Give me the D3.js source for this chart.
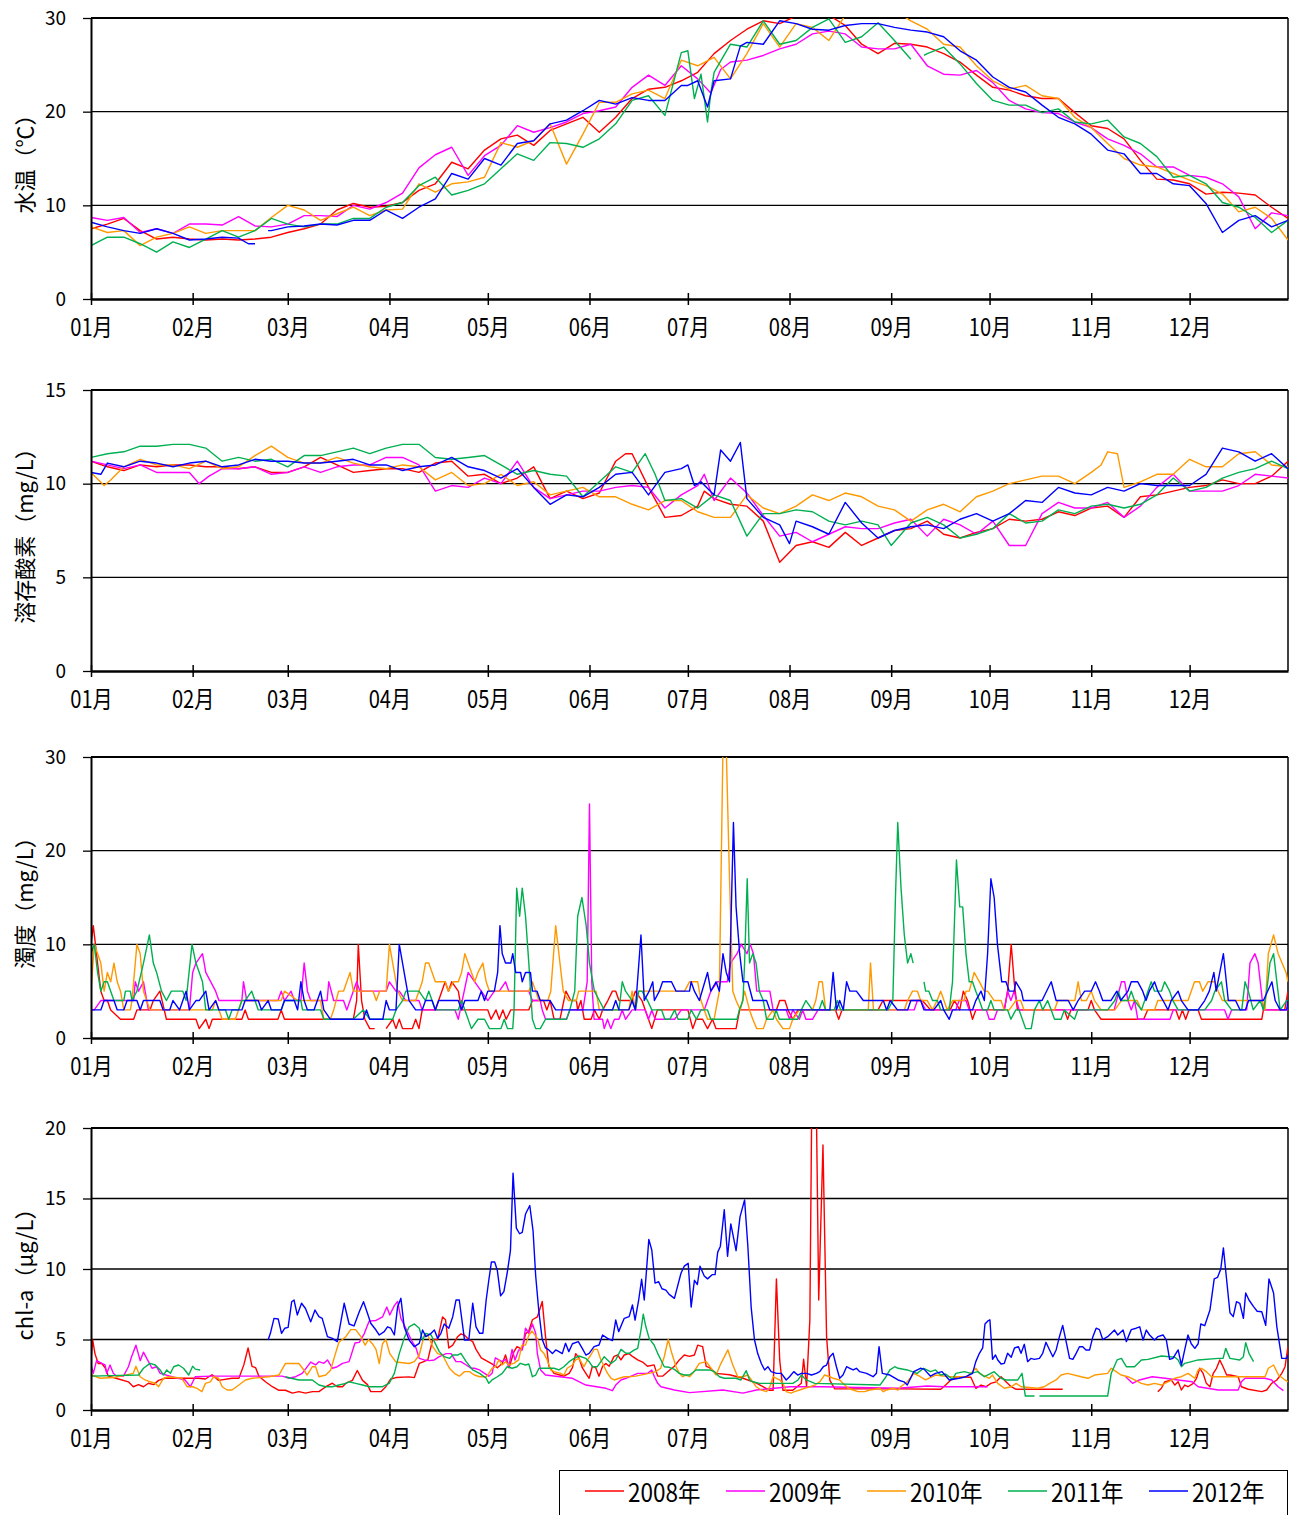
<!DOCTYPE html>
<html>
<head>
<meta charset="utf-8">
<script src="https://cdn.jsdelivr.net/npm/d3@7"></script>
<style>
  body { margin: 0; background: #fff; }
  svg { display: block; font-family: "Noto Sans CJK JP", "Noto Sans", sans-serif; }
</style>
</head>
<body>
<svg id="chart" width="1291" height="1515"></svg>
<script>
// daily water quality, 2008-2012 as [dayOfYear, value]

const years = ['2008年', '2009年', '2010年', '2011年', '2012年'];
const colors = ['#ff0000', '#ff00ff', '#ff9900', '#00b050', '#0000ff'];
const monthStarts = [0, 31, 60, 91, 121, 152, 182, 213, 244, 274, 305, 335];
const monthLabels = ['01月', '02月', '03月', '04月', '05月', '06月', '07月', '08月', '09月', '10月', '11月', '12月'];

// 水温
const temp2008 = [[0,7.5],[5,8.0],[10,8.6],[15,7.3],[20,6.4],[25,6.6],[30,6.4],[35,6.3],[40,6.4],[45,6.3],[50,6.4],[55,6.6],[60,7.1],[65,7.5],[70,8.0],[75,9.5],[80,10.2],[85,9.8],[90,9.9],[95,10.3],[100,11.6],[105,12.3],[110,14.6],[115,13.9],[120,15.9],[125,17.1],[130,17.5],[135,16.4],[140,18.0],[145,18.7],[150,19.4],[155,17.8],[160,19.4],[165,21.4],[170,22.4],[175,22.6],[180,23.3],[185,24.2],[190,26.2],[195,27.6],[200,28.8],[205,29.7],[210,29.4],[215,30.2],[220,30.5],[225,30.3],[230,29.2],[235,27.2],[240,26.2],[245,27.3],[250,27.2],[255,26.9],[260,26.2],[265,25.3],[270,23.9],[275,22.6],[280,22.3],[285,21.7],[290,21.4],[295,21.4],[300,19.9],[305,18.5],[310,18.2],[315,17.1],[320,14.8],[325,12.8],[330,12.7],[335,12.3],[340,11.2],[345,11.4],[350,11.3],[355,11.1],[360,9.8],[365,8.6]];
const temp2009 = [[0,8.7],[5,8.4],[10,8.7],[15,7.1],[20,7.5],[25,7.0],[30,8.0],[35,8.0],[40,7.9],[45,8.8],[50,7.8],[55,7.7],[60,8.0],[65,8.9],[70,8.9],[75,8.8],[80,10.0],[85,9.6],[90,10.3],[95,11.3],[100,14.0],[105,15.4],[110,16.2],[115,13.2],[120,15.3],[125,16.4],[130,18.5],[135,17.8],[140,18.3],[145,18.9],[150,19.8],[155,20.1],[160,20.5],[165,22.6],[170,23.9],[175,22.8],[180,24.9],[185,23.5],[189,22.0],[192,24.5],[195,25.3],[200,25.5],[205,26.0],[210,26.7],[215,27.2],[220,28.3],[225,28.6],[230,28.3],[235,26.9],[240,26.7],[245,26.7],[250,27.2],[255,24.9],[260,24.0],[265,23.9],[270,24.4],[275,23.1],[280,21.2],[285,20.3],[290,19.9],[295,19.8],[300,18.9],[305,18.3],[310,17.1],[315,16.4],[320,15.5],[325,14.1],[330,14.1],[335,13.2],[340,13.0],[345,12.3],[350,10.9],[355,7.5],[360,9.2],[365,8.9]];
const temp2010 = [[0,7.7],[5,7.1],[10,7.3],[15,5.7],[20,6.6],[25,7.0],[30,7.7],[35,7.0],[40,7.3],[45,7.3],[50,7.3],[55,8.7],[60,10.0],[65,9.5],[70,8.4],[75,9.1],[80,9.8],[85,8.9],[90,9.5],[95,9.6],[100,12.3],[105,11.4],[110,12.3],[115,12.5],[120,13.0],[125,16.7],[130,16.2],[135,16.9],[140,18.7],[145,14.4],[150,17.6],[155,21.0],[160,21.0],[165,21.9],[170,22.3],[175,21.4],[180,25.5],[185,24.9],[190,25.8],[195,23.5],[200,26.2],[205,29.4],[210,26.9],[215,29.4],[220,29.0],[225,27.6],[230,30.3],[235,30.8],[240,31.0],[245,30.8],[250,29.7],[255,28.8],[260,27.2],[265,26.9],[270,24.9],[275,23.3],[280,22.4],[285,22.8],[290,21.7],[295,21.4],[300,19.4],[305,18.3],[310,16.6],[315,15.0],[320,14.3],[325,14.1],[330,13.4],[335,12.7],[340,12.1],[345,11.2],[350,9.3],[355,9.8],[360,8.6],[365,6.3]];
const temp2011 = [[0,5.7],[5,6.6],[10,6.6],[15,5.9],[20,5.0],[25,6.1],[30,5.5],[35,6.4],[40,7.3],[45,6.6],[50,7.3],[55,8.6],[60,8.0],[65,7.7],[70,8.0],[75,8.0],[80,8.6],[85,8.6],[90,9.8],[95,10.3],[100,12.1],[105,13.0],[110,11.1],[115,11.6],[120,12.3],[125,13.9],[130,15.5],[135,14.8],[140,16.7],[145,16.6],[150,16.2],[155,17.1],[160,18.7],[165,21.2],[170,21.7],[175,19.6],[180,26.3],[182,26.5],[184,21.4],[186,24.0],[188,18.9],[189,22.0],[190,24.2],[195,27.2],[200,26.9],[205,29.7],[210,27.2],[215,27.6],[220,29.0],[225,29.9],[230,27.4],[235,28.0],[240,29.5],[245,27.6],[250,25.6],[251,null],[254,26.0],[255,26.2],[260,26.9],[265,25.1],[270,23.0],[275,21.2],[280,20.7],[285,20.7],[290,19.9],[295,20.3],[300,18.9],[305,18.7],[310,19.1],[315,17.3],[320,16.6],[325,15.2],[330,13.0],[335,13.2],[340,12.3],[345,10.3],[350,9.8],[355,8.7],[360,7.1],[365,8.4]];
const temp2012 = [[0,8.2],[5,7.7],[10,7.3],[15,7.0],[20,7.5],[25,7.0],[30,6.3],[35,6.4],[40,6.6],[45,6.5],[48,5.9],[50,5.9],[51,null],[54,7.3],[55,7.3],[60,7.7],[65,7.8],[70,8.0],[75,7.9],[80,8.4],[85,8.4],[90,9.5],[95,8.6],[100,9.8],[105,10.7],[110,13.4],[115,12.8],[120,15.0],[125,14.3],[130,16.6],[135,16.9],[140,18.7],[145,19.1],[150,20.1],[155,21.2],[160,20.8],[165,21.5],[170,21.2],[175,21.2],[180,22.8],[182,22.8],[185,23.3],[188,20.5],[190,23.3],[195,23.5],[198,27.0],[200,27.4],[205,27.2],[210,29.7],[215,29.4],[220,28.8],[225,28.7],[230,29.2],[235,29.4],[240,29.4],[245,29.0],[250,28.7],[255,28.5],[260,28.0],[265,26.5],[270,25.5],[275,23.7],[280,22.6],[285,22.1],[290,20.7],[295,19.4],[300,18.7],[305,17.6],[310,15.9],[315,15.5],[320,13.4],[325,13.4],[330,12.3],[335,12.1],[340,10.2],[345,7.1],[350,8.4],[355,8.9],[360,7.7],[365,8.4]];

// 溶存酸素
const do2008 = [[0,11.2],[5,10.9],[10,10.7],[15,11.0],[20,10.9],[25,11.0],[30,11.0],[35,10.9],[40,10.9],[45,10.8],[50,10.9],[55,10.6],[60,10.6],[65,10.9],[70,11.4],[75,11.0],[80,10.6],[85,10.7],[90,10.8],[95,10.8],[100,10.6],[105,11.1],[110,11.2],[115,10.4],[120,10.5],[125,10.0],[130,10.3],[135,10.9],[140,9.2],[145,9.6],[150,9.2],[155,9.5],[160,11.2],[163,11.6],[165,11.6],[170,9.8],[175,8.2],[180,8.3],[185,8.8],[187,9.6],[190,9.2],[195,8.9],[200,8.8],[205,8.0],[210,5.8],[215,6.7],[220,6.9],[225,6.6],[230,7.4],[235,6.7],[240,7.1],[245,7.5],[250,7.6],[255,8.0],[260,7.3],[265,7.1],[270,7.4],[275,7.6],[280,8.1],[285,8.0],[290,8.1],[295,8.5],[300,8.3],[305,8.7],[310,8.8],[315,8.2],[320,9.3],[325,9.4],[330,9.6],[335,9.8],[340,9.9],[345,10.2],[350,10.0],[355,10.0],[360,10.4],[365,11.2]];
const do2009 = [[0,11.2],[5,11.0],[10,10.8],[15,11.0],[20,10.6],[25,10.6],[30,10.6],[33,10.0],[36,10.4],[40,10.8],[45,10.8],[50,10.9],[55,10.5],[60,10.6],[65,10.9],[70,10.6],[75,10.9],[80,11.0],[85,11.0],[90,11.4],[95,11.4],[100,11.0],[105,9.6],[110,9.9],[115,9.8],[120,10.3],[125,10.0],[130,11.2],[135,9.8],[140,9.2],[145,9.4],[150,9.6],[155,9.6],[160,9.8],[165,9.9],[170,9.8],[175,8.7],[180,9.4],[185,9.9],[187,10.5],[190,9.1],[195,10.3],[200,9.5],[205,8.3],[210,7.2],[215,7.4],[220,6.9],[225,7.3],[230,7.7],[235,7.6],[240,7.6],[245,7.9],[250,8.1],[255,7.2],[260,8.1],[265,7.8],[270,7.3],[275,8.0],[280,6.7],[285,6.7],[290,8.4],[295,9.0],[300,8.7],[305,8.7],[310,9.0],[315,8.2],[320,8.8],[325,9.8],[330,10.5],[335,9.6],[340,9.6],[345,9.6],[350,9.9],[355,10.5],[360,10.4],[365,10.3]];
const do2010 = [[0,10.6],[4,9.9],[6,10.2],[10,10.9],[15,11.3],[20,11.0],[25,11.0],[30,10.8],[35,11.2],[40,10.8],[45,10.9],[50,11.5],[55,12.0],[60,11.4],[65,11.1],[70,11.1],[75,11.4],[80,11.1],[85,10.9],[90,10.8],[95,11.0],[100,10.9],[105,10.2],[110,10.6],[115,9.9],[120,10.0],[125,10.5],[130,9.9],[135,10.1],[140,9.4],[145,9.6],[150,9.8],[155,9.3],[160,9.3],[165,8.9],[170,8.6],[175,9.1],[180,9.1],[185,8.5],[190,8.2],[195,8.2],[200,9.4],[205,8.7],[210,8.4],[215,8.8],[220,9.4],[225,9.1],[230,9.5],[235,9.3],[240,8.8],[245,8.6],[250,8.0],[255,8.6],[260,8.9],[265,8.5],[270,9.3],[275,9.6],[280,10.0],[285,10.2],[290,10.4],[295,10.4],[300,10.0],[305,10.6],[308,11.0],[310,11.7],[313,11.6],[315,9.8],[320,10.1],[325,10.5],[330,10.5],[335,11.3],[340,10.9],[345,10.9],[350,11.6],[355,11.7],[360,11.0],[365,10.9]];
const do2011 = [[0,11.4],[5,11.6],[10,11.7],[15,12.0],[20,12.0],[25,12.1],[30,12.1],[35,11.9],[40,11.2],[45,11.4],[50,11.2],[55,11.3],[60,10.9],[65,11.5],[70,11.5],[75,11.7],[80,11.9],[85,11.6],[90,11.9],[95,12.1],[100,12.1],[105,11.4],[110,11.3],[115,11.4],[120,11.5],[125,11.0],[130,10.5],[135,10.7],[140,10.5],[145,10.4],[150,9.3],[155,10.1],[160,10.9],[165,10.6],[169,11.6],[172,10.5],[175,9.1],[180,9.2],[185,8.7],[190,9.4],[195,9.1],[200,7.2],[205,8.4],[210,8.4],[215,8.6],[220,8.5],[225,8.0],[230,7.8],[235,8.0],[240,7.8],[244,6.7],[250,7.9],[255,8.2],[260,7.8],[265,7.1],[270,7.3],[275,7.6],[280,8.4],[285,7.9],[290,8.0],[295,8.6],[300,8.4],[305,8.8],[310,8.9],[315,8.7],[320,8.9],[325,9.4],[330,10.3],[335,9.6],[340,9.8],[345,10.3],[350,10.6],[355,10.8],[360,11.2],[365,10.8]];
const do2012 = [[0,10.6],[3,10.5],[5,11.1],[10,10.9],[15,11.2],[20,11.1],[25,10.9],[30,11.1],[35,11.2],[40,10.9],[45,11.0],[50,11.3],[55,11.2],[60,11.2],[65,11.1],[70,11.1],[75,11.2],[80,11.3],[85,11.0],[90,11.0],[95,10.7],[100,10.9],[105,11.0],[110,11.4],[115,10.9],[120,10.7],[125,10.3],[130,10.8],[135,9.8],[140,8.9],[145,9.4],[150,9.3],[155,9.8],[160,10.5],[165,10.6],[170,9.4],[175,10.6],[180,10.8],[182,11.0],[184,9.9],[186,10.1],[190,9.4],[192,11.8],[195,11.2],[198,12.2],[200,9.2],[205,8.2],[210,7.8],[213,6.8],[215,8.0],[220,7.7],[225,7.3],[230,9.0],[235,7.9],[240,7.1],[245,7.5],[250,7.7],[255,7.8],[260,7.6],[265,8.1],[270,8.4],[275,8.0],[280,8.4],[285,9.1],[290,9.0],[295,9.8],[300,9.5],[305,9.4],[310,9.8],[315,9.6],[320,10.0],[325,9.9],[330,9.9],[335,9.9],[340,10.5],[345,11.9],[350,11.7],[355,11.2],[360,11.6],[365,10.8]];

// 濁度
const turb2008 = [[0,10],[0.7,12],[2,8],[3,5],[4,4],[5,4],[6,3],[9,2],[13,2],[14,3],[18,3],[19,4],[21,5],[23,2],[32,2],[33,1],[35,2],[36,1],[37,2],[46,2],[47,3],[48,2],[57,2],[58,3],[59,2],[80,2],[81,4],[81.5,10],[82.5,4],[83.5,2],[85,1],[86.5,1],[87,null],[90,1],[92,2],[93,1],[94,2],[95,1],[98,1],[99,2],[100,1],[101,3],[105,3],[106,4],[108,6],[109,5],[110,6],[112,5],[113,3],[121,3],[122,2],[123.5,3],[124.5,2],[125.6,3],[126.6,2],[128,3],[133.5,3],[134.6,4],[138,4],[139,3],[140,4],[141.2,2],[143,2],[144.8,5],[146.3,4],[148,4],[148.4,3],[149.4,4],[150.4,2],[152.5,2],[153.5,3],[155,2],[156,3],[157.6,4],[159,5],[160,5],[161,4],[165,4],[166,5],[168,4],[169,3],[171,1],[172.7,3],[182,3],[183.5,1],[184.5,2],[186.5,2],[188,1],[189.5,2],[190.6,1],[196.7,1],[197.8,3],[209,3],[210,4],[211.6,4],[212.5,3],[214,2],[215.6,3],[227,3],[228,2],[229,3],[240,3],[241.5,4],[246.9,4],[253.5,4],[256,3],[262,3],[263.3,4],[264.9,3],[266,5],[267.3,4],[268.8,2],[269.8,3],[278.5,3],[279.5,5],[280.6,10],[281.5,6],[282.5,3],[296.8,3],[297.8,2],[298.8,3],[304,3],[305,4],[306,3],[308,2],[321,2],[322.2,3],[330.8,3],[331.8,2],[332.8,3],[333.8,2],[334.8,3],[337.6,3],[338.6,2],[357,2],[357.5,3],[364,3],[365,5]];
const turb2009 = [[0,3],[1,3],[3,4],[13,4],[13.5,6],[14.5,5],[16,6],[17.5,3],[30,3],[31,7],[32,8],[34,9],[35,7],[38,5],[39,4],[46,4],[46.5,6],[47.5,4],[57,4],[58,5],[59,4],[61,5],[62,4],[64,4],[65,8],[66,5],[67,4],[72,4],[72.5,6],[74,4],[77,4],[78,3],[79,4],[81,6],[82,5],[90,5],[91,6],[93,5],[94,5],[96,4],[100,4],[101,3],[111,3],[112,2],[115,7],[117,6],[119,5],[121,4],[123,5],[124.5,5],[126.4,6],[127.4,5],[133.5,5],[134.6,4],[137,4],[137.6,3],[138.6,2],[145,2],[146,3],[150,3],[151.3,6],[152,25],[152.7,6],[153.4,2],[156,2],[156.5,1],[157.5,2],[158.5,1],[159.6,2],[161,2],[162,3],[163,2],[165,3],[169,3],[170,2],[171,3],[172,2],[178,2],[180,3],[187,3],[189,5],[191,6],[194,6],[195,8],[197,9],[198.3,10],[200,9],[201,10],[202,9],[203,5],[207,5],[208,3],[212,3],[213,2],[214,3],[216,2],[217,3],[218,2],[220,2],[221.7,3],[251,3],[252,4],[253,4],[254.5,3],[263.7,3],[264.7,4],[266.8,4],[267.8,3],[273,3],[273.9,2],[275.4,2],[276.4,3],[278.5,3],[279.5,5],[280.5,4],[281.5,5],[283,3],[312,3],[314.2,6],[315.2,6],[316.2,4],[317.2,3],[318.2,4],[319.2,2],[329,2],[330,3],[345.7,3],[346.7,2],[347.8,3],[352.4,3],[353.4,8],[354.9,9],[355.9,8],[357.5,3],[365,3]];
const turb2010 = [[0,5],[1,10],[3,8],[4,5],[5,7],[6,6],[7,8],[8,6],[9,5],[10,3],[12,3],[12.5,4],[14,10],[15,9],[16,5],[18,3],[37,3],[38,4],[40,2],[44,2],[45,3],[46,4],[58,4],[59,5],[63,4],[70,4],[71,2],[73,2],[74,3],[75.5,5],[77,5],[78,6],[79,7],[80,5],[82,5],[86,5],[87,4],[88,5],[90,5],[91,10],[92,8],[93.5,5],[95,4],[99,4],[100,5],[101,6],[102,8],[103,8],[105,6],[108,6],[109,5],[110.5,6],[112,6],[113,7],[114,9],[115,8],[117,6],[118,7],[119.5,8],[120.5,6],[121.5,5],[133.5,5],[134.6,6],[135.6,5],[136.6,4],[139.3,4],[140.2,5],[141.7,12],[143,8],[144,5],[145.6,4],[148,4],[148.7,5],[154,5],[155,3],[164,3],[165,5],[166,3],[167,5],[181,5],[182.5,6],[185,6],[186,4],[187,3],[188,2],[190,2],[191.6,5],[192.7,31],[193.7,31],[194.7,17],[195.7,5],[196.7,4],[198,3],[199.3,5],[200.8,3],[201.8,2],[203,1],[205,1],[206,2],[208,3],[209,2],[211,1],[213,1],[214,2],[216,3],[220,3],[221,4],[222,6],[223,6],[224,3],[237,3],[237.7,8],[238.6,3],[248,3],[249,4],[250.5,5],[252,5],[253,4],[255,4],[256.6,3],[258,4],[259.1,5],[260.1,4],[261.1,3],[262.7,4],[266.3,4],[266.8,5],[267.8,5],[269.3,7],[270.9,6],[272.4,5],[273.4,5],[275.4,4],[277.5,4],[278.5,3],[280,3],[282,4],[283.5,4],[284.5,3],[293.8,3],[294.8,4],[300,4],[301,6],[302,4],[303.5,4],[305,5],[306,4],[308,3],[312.2,3],[314.2,4],[319,4],[320.3,3],[324.3,3],[325.3,4],[334.5,4],[336.5,6],[338,6],[339,5],[340.6,6],[342.7,6],[343.7,5],[345,4],[357,4],[358,3],[359,9],[360.6,11],[362,9],[364.4,7],[365,6]];
const turb2011 = [[0,9],[1,10],[2,7],[3,5],[4,6],[5,6],[6,5],[7,4],[10,4],[10.5,5],[12,5],[12.5,4],[14,5],[16,8],[17.8,11],[19,8],[20,7],[21.5,5],[23,4],[24.5,5],[28,5],[29,4],[30.8,10],[32,8],[34,6],[35,3],[41,3],[42,2],[43,3],[45,3],[46,4],[47,4],[49,5],[50,4],[51,3],[58,3],[59,4],[64,4],[64.5,3],[70,3],[71,2],[80,2],[83,3],[85,2],[92,2],[93,3],[95,4],[96,5],[100,5],[102,4],[103,5],[104,4],[105,3],[112,3],[113,4],[114,3],[116,1],[118,2],[120,2],[121.5,1],[125,1],[126,2],[127,1],[128.6,1],[129,3],[129.8,16],[130.7,13],[131.5,16],[132.5,13],[133.5,8],[134.6,2],[135.6,1],[137,1],[138.6,2],[145,2],[146,3],[147.5,5],[148.4,13],[149.7,15],[151,12],[152,8],[153.5,5],[155,4],[156.5,3],[161,3],[162,6],[163,5],[165,4],[166,3],[167,5],[168,5],[169.7,4],[171,3],[174,3],[175,2],[176.5,2],[178,3],[179,2],[182,2],[183,3],[184.6,2],[186,3],[188,3],[189,2],[197,2],[197.7,3],[198.8,4],[199.3,8],[200.1,17],[200.8,8],[201.8,9],[202.8,8],[203.8,5],[205,4],[206,2],[208,2],[208.9,3],[209.9,2],[215.5,2],[216.6,3],[218,4],[220,3],[222,3],[223,4],[224,3],[226.6,3],[227.6,4],[228.6,3],[243,3],[244.5,4],[245.3,15],[246,23],[247,16],[248,11],[249,8],[250,9],[250.7,8],[251,null],[254,6],[254.5,5],[255.5,5],[256.6,4],[258.1,4],[259.1,3],[261.7,3],[262.7,6],[263.9,19],[264.9,14],[265.8,14],[266.8,9],[267.8,6],[268.8,6],[269.8,5],[270.9,4],[271.9,3],[273.4,3],[274.4,4],[275.4,3],[279.5,3],[280.5,2],[282,3],[283,3],[284,2],[285,1],[286.7,1],[287.7,3],[289.2,4],[290.2,3],[291.7,4],[292.8,3],[293.8,2],[295.8,2],[296.8,3],[299.9,2],[300.9,3],[310,3],[312.2,4],[313.2,5],[314.2,4],[316.2,4],[317.2,5],[318.2,4],[320.3,3],[322.3,5],[323.3,6],[324.3,5],[326.4,5],[327.4,6],[328.9,5],[329.9,4],[331.5,3],[339.6,3],[341.7,4],[342.7,5],[344.7,6],[345.7,4],[347.8,3],[350.9,3],[351.9,6],[352.9,5],[354.4,3],[356.5,4],[357.5,3],[358.5,5],[359.5,8],[360.6,9],[361.6,6],[362.6,3],[364.6,4],[365,4]];
const turb2012 = [[0,3],[3,3],[4,4],[7,4],[8,3],[10,3],[11,4],[14,4],[15,3],[16,4],[21,4],[22,3],[24,3],[25,4],[27,3],[28,4],[29,5],[30,3],[32,4],[33,4],[35,5],[36,3],[38,4],[39,3],[46,3],[47,4],[51,4],[52,3],[54,4],[55,3],[58,3],[59,4],[62,4],[63,3],[64,6],[65,4],[66,3],[68,3],[70,5],[71,3],[73,2],[83,2],[84,3],[85,2],[89,2],[90,4],[91,3],[93,3],[94,10],[96,6],[97,4],[99,3],[101,3],[102,4],[104,4],[105,3],[106,4],[112,4],[113,3],[114,4],[118,4],[119,5],[120,4],[121,5],[123,5],[124,7],[124.7,12],[125.4,9],[126.4,8],[128,8],[128.6,9],[129.5,7],[131,7],[131.5,6],[132.5,7],[134,7],[134.6,5],[136,5],[137,4],[140,4],[141.7,3],[159,3],[160,4],[161,3],[164,3],[165,4],[166,3],[167.7,11],[168.7,4],[170.2,5],[171.3,6],[171.8,4],[173.3,5],[174.3,6],[177,6],[178.4,5],[182.5,5],[183,6],[184,5],[185.5,4],[188,7],[189,5],[190.6,6],[191.6,5],[192.7,9],[193.7,7],[194.7,6],[195.9,23],[196.7,14],[197.8,9],[198.8,6],[200.3,6],[201.8,4],[206,4],[207,3],[225.3,3],[226.3,7],[227.3,3],[228.3,4],[229.4,3],[230.4,6],[231.4,5],[233.4,5],[235.5,4],[241.6,4],[242.6,3],[243.7,4],[245.9,3],[249,3],[250,4],[253,4],[254,3],[257,3],[259.1,4],[260,3],[261.7,2],[262.7,3],[268.8,3],[269.8,4],[271.4,5],[272.4,4],[273.4,9],[274.4,17],[275.4,15],[276.4,10],[277.7,6],[279,6],[280,5],[281.5,5],[282,6],[283.7,5],[284.3,4],[290,4],[292.8,6],[294.3,4],[298,4],[299.5,3],[301,4],[303,5],[305,5],[306.3,6],[307.5,5],[308.5,4],[311,4],[312.8,5],[314,4],[316.2,5],[317.2,6],[319.2,6],[320.7,5],[321.7,4],[322.7,5],[324.3,6],[325.3,5],[326.9,4],[328.4,3],[329.4,4],[331.5,5],[332.5,4],[334.5,3],[337.6,3],[339.6,4],[341,5],[342.4,7],[343.1,5],[345.3,9],[346.8,4],[349,4],[350.4,3],[352,3],[353,4],[357.5,4],[360.1,6],[361.1,4],[362.6,3],[364.6,3],[365,4]];

// chl-a
const chl2008 = [[0,3.5],[0.5,5.0],[1.2,4.0],[2.2,3.3],[3.3,3.3],[4.3,3.0],[5.3,2.4],[8.4,2.2],[11.4,2.0],[12.9,1.65],[14.5,1.8],[16,1.65],[17.5,1.9],[19.1,1.8],[20.6,2.1],[22.6,2.25],[32.8,2.25],[34.9,2.2],[36.9,2.5],[38.9,2.1],[43,2.25],[45.1,2.25],[46.6,3.2],[47.9,4.4],[49.1,3.1],[50.2,3.0],[51.2,2.4],[53.2,2.0],[55.3,1.65],[57.3,1.4],[59.3,1.4],[61.4,1.2],[63.4,1.3],[65.4,1.2],[67.5,1.3],[69.5,1.3],[71.6,1.65],[73.6,1.9],[75.1,1.65],[76.7,1.65],[77.7,1.9],[79.7,2.1],[81.2,2.8],[82.8,2.1],[84.3,1.8],[85.3,1.3],[88.4,1.3],[89.9,1.65],[91.4,2.2],[93,2.3],[97,2.35],[98.6,2.3],[100.1,3.3],[101.1,3.4],[102.7,3.55],[104.2,5.0],[105.7,5.0],[107.2,6.6],[108.1,6.4],[109.1,4.4],[110.3,4.6],[111.8,5.2],[112.8,5.4],[113.9,5.3],[115.2,5.0],[116.4,4.85],[117.4,4.3],[119,3.7],[120.5,3.5],[121.3,3.4],[122.8,3.2],[123.9,3.0],[125.4,3.3],[126.4,3.9],[127.5,3.0],[128.9,4.1],[129.9,4.5],[131.5,4.3],[132.5,5.4],[133.5,5.6],[134.6,6.4],[136.1,6.6],[137.6,7.7],[138.6,5.2],[139.6,3.1],[141.2,2.6],[142.7,2.5],[144.2,2.4],[145.8,2.6],[146.8,3.0],[147.8,4.0],[148.8,3.7],[149.8,3.0],[150.9,2.6],[151.9,2.25],[152.9,3.1],[153.9,3.0],[154.9,2.4],[156,3.1],[157,3.3],[158,3.1],[159.5,3.8],[160.6,3.9],[161.6,3.55],[162.6,3.9],[164.1,4.0],[165.1,3.8],[166.7,3.55],[168.2,3.4],[169.7,3.1],[171.7,3.2],[172.8,2.4],[174.3,2.4],[176.3,2.8],[177.9,3.1],[179.4,3.55],[180.9,3.9],[182.5,3.8],[184,3.9],[185,4.6],[186.5,4.5],[187.6,3.1],[188.6,3.0],[190.6,2.6],[194.7,2.5],[198.8,2.25],[202.9,1.9],[204.9,1.65],[206.9,1.4],[208,1.4],[209,9.3],[210,3.55],[211,1.4],[214,1.4],[216.6,1.9],[217.3,3.6],[218.2,1.65],[219.2,6.4],[219.9,25],[221,25],[221.9,7.8],[223.2,18.8],[224.3,5.2],[225.3,2.1],[226.8,1.5],[246.1,1.5],[259.1,1.47],[260.6,1.77],[262.2,2.13],[264.2,2.36],[268.3,2.32],[269.8,1.54],[271.4,1.77],[272.9,1.65],[274.4,1.89],[276,2.0],[277.5,2.36],[279,2.0],[280.6,1.65],[282.1,1.47],[296.3,1.47],[296.5,null],[325.3,1.3],[326.4,1.54],[327.4,2.0],[329.4,2.13],[330.5,1.77],[331.5,2.0],[332.5,1.42],[333.5,1.77],[334.5,1.65],[336.1,1.89],[337.1,2.25],[338.1,2.96],[339.1,2.6],[340.1,1.89],[341.2,1.65],[342.2,2.6],[343.2,2.96],[344.2,3.55],[345.2,3.07],[346.3,2.48],[347.3,2.48],[349.8,2.36],[350.8,1.65],[352.9,1.47],[357,1.3],[358.5,1.42],[360,1.89],[361.6,2.13],[363.1,2.6],[364.1,3.07],[365,4.5]];
const chl2009 = [[0,3.2],[0.7,2.6],[1.7,3.5],[3.3,3.3],[4.3,3.2],[4.8,2.6],[5.8,3.2],[6.8,2.6],[7.8,2.4],[9.9,2.4],[11.4,3.07],[12.4,3.8],[13.7,4.6],[15,3.5],[16,4.1],[17,3.66],[18.6,2.96],[20,3.07],[21.1,2.6],[24.7,2.36],[28.7,2.13],[30.3,1.65],[31.8,2.36],[36.9,2.4],[58.3,2.4],[60.4,2.25],[62.4,2.36],[64.4,2.6],[67,3.4],[68.5,3.2],[69.5,3.43],[71,3.31],[72.1,3.55],[73.6,2.96],[75.1,3.07],[76.7,3.31],[78.7,3.43],[80.5,4.75],[81.8,4.8],[83.3,5.4],[84.8,6.3],[86.9,6.35],[88.9,6.6],[90.2,7.3],[91.1,6.74],[92.5,7.4],[93.5,7.7],[94.5,6.5],[96,5.8],[97.6,5.0],[99.1,4.4],[100.1,3.66],[101.6,3.55],[103.1,3.5],[104.7,3.55],[106.2,3.78],[108.3,4.0],[109.8,4.0],[111.3,3.43],[112.8,3.43],[114.4,3.19],[115.9,2.96],[116.9,2.96],[118.5,2.84],[120,2.6],[121.3,2.4],[122.3,2.6],[123.3,3.7],[124.4,3.55],[125.4,3.43],[126.4,3.6],[127.4,3.07],[128.4,4.3],[129.3,3.55],[130.4,4.26],[131.5,4.26],[132.5,5.8],[133.5,5.44],[134.6,6.1],[135.6,5.44],[136.1,4.02],[137.1,2.84],[138.6,2.48],[146.8,2.25],[150.9,1.77],[157,1.54],[159,1.37],[160,1.77],[161.6,2.13],[163.1,2.25],[166.7,2.6],[169.7,2.6],[171,2.84],[171.8,2.36],[172.8,1.89],[173.8,1.65],[177.9,1.42],[182.5,1.23],[192.7,1.42],[198.8,1.2],[202.9,1.42],[213,1.65],[223.2,1.65],[233.4,1.6],[246.1,1.54],[255,1.7],[260.1,1.65],[273.4,1.65],[273.6,null],[315.5,2.36],[317.6,1.89],[319.7,2.13],[323.6,2.36],[327.5,2.25],[331.5,2.13],[335.8,2.0],[337.6,1.65],[343.7,1.42],[349.8,1.42],[350.8,2.0],[351.9,2.25],[358,2.25],[360,2.13],[362,1.65],[363.6,1.37]];
const chl2010 = [[0,2.5],[2.8,2.25],[7,2.3],[12.9,2.6],[13.7,3.1],[15,2.36],[16.5,2.13],[18,2.0],[19.6,1.9],[20.6,1.65],[22.1,2.25],[23.6,2.36],[27.7,2.25],[29.3,1.65],[31,1.65],[32.3,1.54],[33.8,1.3],[34.9,1.89],[36.4,2.0],[37.4,2.36],[38.9,2.25],[40,1.65],[41.5,1.42],[43,1.42],[45.1,1.77],[47.1,2.13],[49.1,2.25],[54.2,2.36],[57.3,2.48],[59.3,3.3],[60.9,3.3],[63.4,3.3],[64.9,2.84],[65.9,2.48],[67.5,3.07],[68.5,3.07],[69.5,2.36],[71.6,2.48],[73.1,2.84],[74.1,3.66],[75.6,4.8],[77.7,5.2],[79.2,5.7],[80.7,5.7],[82.3,5.2],[83.6,4.6],[84.6,5.0],[85.8,4.7],[86.9,4.3],[87.9,3.3],[88.9,4.7],[89.9,5.0],[91.1,4.0],[93,3.4],[95,3.35],[97,3.3],[98.6,3.43],[100.1,3.9],[101.6,5.3],[102.7,5.3],[104.2,4.5],[105.7,4.0],[107.2,3.9],[109.3,2.96],[110.8,2.6],[112.3,2.4],[113.9,2.72],[115.4,2.72],[116.9,2.48],[118.5,2.36],[120.5,2.36],[121.3,2.6],[122.3,2.96],[123.3,3.07],[124.4,3.55],[125.4,3.2],[126.4,3.43],[127.4,3.2],[128.9,3.31],[130.4,3.55],[131.4,4.6],[132.5,4.6],[133.5,5.3],[134.5,5.6],[136.1,5.08],[137.1,4.26],[138.1,4.02],[139.1,3.55],[140.2,2.84],[141.2,2.72],[143.2,2.6],[144.2,2.48],[145.2,2.96],[146.8,3.19],[147.8,3.55],[148.8,3.66],[150.3,3.07],[151.4,3.55],[152.4,3.9],[153.4,4.3],[154.4,4.3],[155.5,3.55],[156.5,3.07],[157.5,2.6],[158.6,2.25],[159.6,2.13],[161.1,2.25],[162.6,2.36],[164.1,2.36],[166.1,2.4],[170.2,2.6],[172.2,2.72],[173.7,2.96],[174.8,3.78],[176,5.0],[177.1,4.02],[178.4,3.07],[179.4,2.6],[180.4,2.36],[181.4,2.48],[182.5,2.36],[183.5,2.6],[184.5,2.96],[185.5,3.31],[187.6,3.43],[189.1,2.96],[190.6,2.48],[192.1,3.31],[194.2,4.26],[195.7,3.19],[197.2,2.36],[198.8,2.36],[200.3,2.48],[201.8,2.0],[202.8,1.65],[204.4,1.42],[206,1.3],[207,1.65],[208,2.36],[209,2.25],[210,2.13],[211,1.89],[212,1.3],[213.5,1.2],[214.5,1.3],[216.1,1.42],[217.6,1.54],[219.2,1.65],[220.7,1.77],[222.2,2.0],[223.7,2.48],[225.3,2.36],[226.3,2.25],[228.3,2.13],[229.3,1.89],[230.9,1.54],[232.4,1.42],[233.9,1.3],[235.9,1.3],[237.5,1.42],[239,1.47],[240.5,1.54],[241.6,1.3],[242.6,1.42],[244.6,1.54],[246.1,1.42],[246.9,1.65],[248.9,2.0],[250.9,2.6],[252.9,2.36],[254.5,2.13],[257.5,2.48],[261.7,2.36],[266.8,2.36],[268.3,2.6],[269.8,2.96],[270.9,2.6],[273.9,2.25],[274.9,2.48],[276.5,1.89],[278.5,1.54],[280.6,1.65],[282.1,1.89],[283.6,1.65],[288.7,1.54],[290.7,1.65],[292.3,1.89],[294.3,2.13],[295.8,2.48],[297.8,2.6],[301.9,2.36],[304,2.25],[306,2.48],[310,2.6],[311.1,2.96],[312.6,2.72],[314.1,2.48],[316.2,2.36],[318.2,2.13],[320.3,1.89],[322.3,1.77],[324.3,1.89],[326.4,1.77],[328.4,2.0],[330.5,2.25],[332.5,2.36],[334.5,2.6],[336.6,2.25],[337.6,2.84],[338.6,2.96],[340.1,2.72],[341.7,2.36],[358,2.36],[359,2.96],[360.6,3.19],[362.1,2.48],[364.1,2.13],[365,2.0]];
const chl2011 = [[0,2.4],[14.5,2.48],[16,2.96],[18,3.31],[19.6,3.19],[21.1,2.84],[22.1,2.48],[23.1,2.84],[24.2,2.6],[25.2,3.07],[26.7,3.19],[28.2,2.96],[29.8,2.48],[31,3.1],[31.8,2.9],[33.3,2.84],[33.5,null],[59.3,2.36],[61,2.25],[63.4,2.13],[67.5,2.13],[69.5,1.77],[71.6,1.65],[73.6,1.65],[75.6,1.77],[77.7,1.89],[78.7,2.0],[80.7,1.89],[82.8,1.77],[84.8,1.65],[88.9,1.65],[90.9,1.89],[92.5,2.6],[94,4.0],[95.5,5.1],[97,5.9],[98.6,6.1],[100.1,5.8],[101.1,4.96],[102.1,5.44],[103.7,5.32],[104.7,4.85],[106.2,4.14],[107.7,3.78],[109.3,3.66],[110.3,3.9],[111.8,3.9],[112.8,4.02],[114.4,3.43],[116.4,2.84],[118.5,2.6],[120.5,2.25],[121.3,1.89],[122.3,2.13],[123.9,2.36],[125.4,2.6],[126.9,3.07],[128.4,2.96],[129.9,3.07],[130.9,3.31],[132.5,3.19],[133.5,3.26],[134.6,2.36],[135.6,2.48],[136.6,2.96],[141.2,2.96],[142.7,2.84],[144.2,3.07],[145.8,3.43],[147.3,3.66],[148.8,3.83],[150.9,3.66],[151.9,3.43],[152.9,3.07],[154.4,3.07],[156.5,3.78],[157.5,3.55],[158.6,3.31],[160,3.55],[161.6,4.3],[163.1,4.02],[164.1,4.02],[165.7,4.26],[166.7,4.37],[167.7,5.67],[168.4,6.8],[169.2,5.9],[170.2,5.08],[171.7,4.61],[172.8,4.02],[173.8,3.55],[174.8,3.07],[176.3,3.03],[177.9,2.88],[179.4,2.6],[180.9,2.48],[182.5,2.48],[184.5,2.84],[188.6,2.84],[190.1,2.72],[191.6,2.36],[193.1,2.25],[196.7,2.25],[198.2,2.13],[199.8,2.79],[200.8,2.13],[201.8,2.0],[203.9,1.89],[214,1.89],[215.6,2.13],[216.6,2.48],[218.1,2.13],[220.7,1.89],[240.6,1.77],[242.1,2.25],[243.6,2.84],[245.1,3.07],[246.1,2.96],[248.9,2.84],[250.4,2.72],[251.9,2.6],[253.9,2.96],[256,2.72],[257.5,2.84],[259.1,2.48],[260.6,2.55],[262.7,2.17],[263.7,2.6],[266.3,2.72],[268.3,2.6],[270.4,2.72],[272.4,2.36],[274.4,2.6],[275.4,2.72],[277.5,2.25],[279,2.13],[280.6,2.13],[282.6,2.13],[283.9,2.6],[284.9,0.99],[287.7,0.99],[288,null],[289.2,0.99],[310,0.99],[311.1,2.6],[312.9,3.55],[314.2,3.66],[315.7,3.07],[318.2,3.07],[320.3,3.55],[322.3,3.59],[326.4,3.83],[330.5,3.74],[331.5,3.55],[332.5,3.07],[333.5,3.31],[335.6,3.43],[337.6,3.55],[343.7,3.66],[345.2,3.66],[346,4.37],[347.3,3.66],[350.3,3.55],[351.4,3.78],[352.1,4.78],[353.1,4.02],[354.5,3.43]];
const chl2012 = [[54,4.96],[54.7,5.44],[55.8,6.5],[57.1,6.45],[58.1,5.44],[59.1,5.8],[60.1,5.86],[61.2,7.68],[61.9,7.8],[62.9,6.74],[64.2,7.57],[65.4,7.2],[67,6.26],[68.3,7.09],[69.5,6.62],[70.5,6.5],[72.1,5.2],[73.6,5.08],[75.1,4.85],[76.1,6.15],[77.2,7.57],[78.7,6.1],[80.2,5.96],[81.8,6.97],[83.1,7.68],[84.3,6.86],[85.3,6.15],[86.9,5.67],[87.9,5.32],[89.4,5.56],[90.4,5.9],[91.4,5.8],[92.5,5.32],[93.5,7.33],[94.5,7.92],[95.5,5.9],[97,4.96],[98.6,4.49],[100.1,4.73],[101.1,5.67],[102.1,5.2],[103.7,5.44],[104.7,5.67],[105.7,5.08],[106.7,5.44],[107.7,6.1],[109.1,5.8],[110.3,6.62],[111.3,7.8],[112.3,7.8],[113.9,4.96],[115.2,4.96],[116.4,7.57],[117.4,5.9],[118.5,5.44],[119.5,5.44],[120.5,7.8],[121.3,9.2],[122.1,10.5],[123.1,10.5],[123.9,9.9],[124.9,8.1],[125.9,8.4],[126.9,9.7],[127.9,11.3],[128.7,16.8],[129.7,12.9],[130.7,12.5],[131.5,12.6],[132.5,13.9],[133.8,14.5],[134.8,12.7],[135.6,9.5],[136.6,6.9],[137.6,5.0],[138.6,4.4],[139.6,4.26],[140.7,4.0],[141.7,4.26],[142.7,4.14],[143.7,4.0],[144.7,4.73],[145.7,4.14],[146.8,4.7],[148.6,4.85],[149.8,4.37],[150.9,3.9],[151.9,4.02],[153.4,4.49],[154.9,4.61],[156,5.32],[157.5,5.08],[159,4.92],[160,6.38],[160.9,5.56],[162.6,6.5],[164.1,6.62],[165.1,7.45],[165.9,6.38],[167,7.8],[167.9,9.27],[168.7,7.8],[170.1,12.1],[171,11.35],[172,9.0],[173.1,9.1],[174.1,8.6],[175.3,8.5],[176.3,8.2],[177.9,7.92],[179.9,9.7],[180.9,10.2],[182.1,10.4],[183,7.3],[184,9.2],[184.9,8.9],[185.7,10.2],[187,9.5],[188,9.3],[189.4,9.6],[190.3,9.6],[191.1,11.2],[191.9,11.6],[193.1,14.2],[194.1,10.9],[195.1,13.2],[196.7,11.3],[197.9,13.7],[199.3,14.9],[200.3,11.6],[201.3,7.3],[202.3,5.0],[203.3,4.0],[204.4,3.3],[205.4,2.84],[206.4,3.07],[207.4,2.72],[209,2.6],[210.5,2.6],[212,2.13],[213,2.36],[214.3,2.72],[215.5,2.48],[216.6,2.6],[218.2,2.6],[219.7,2.48],[221.2,2.6],[222.2,2.72],[223.3,3.07],[224.3,3.19],[225.3,3.78],[226.3,4.02],[227.3,3.07],[228.3,2.25],[229.3,2.48],[230.4,3.07],[231.4,2.96],[232.4,2.84],[233.4,2.96],[234.4,2.72],[236.5,2.6],[238.5,2.36],[239.5,2.6],[240.3,4.49],[241.3,2.6],[243.6,2.48],[246.1,2.13],[247.9,2.0],[248.9,1.77],[250.9,2.72],[252.9,2.96],[254,2.9],[256,2.4],[257.5,2.6],[259.5,2.72],[261.7,2.13],[264.7,2.25],[266.8,2.36],[268.8,2.6],[269.8,3.43],[270.9,4.02],[271.9,4.4],[272.6,6.1],[273.4,6.3],[274.1,6.4],[274.9,3.6],[275.8,3.9],[276.5,3.55],[277.5,3.26],[278.5,3.31],[279.5,4.02],[280.6,3.74],[281.6,4.4],[282.8,4.49],[283.6,4.02],[284.6,4.66],[285.6,3.43],[286.6,3.66],[287.7,3.59],[289.2,3.66],[290.2,4.02],[291.2,4.8],[292.3,4.26],[293.3,3.78],[294.3,4.26],[295.3,5.2],[296.3,6.0],[297.4,4.8],[298.4,3.66],[299.4,3.59],[300.4,4.02],[301.4,4.49],[302.4,4.49],[303.4,4.26],[304.5,4.26],[305.5,5.2],[306.5,5.8],[307.5,5.7],[308.5,5.0],[310,5.2],[311.1,5.44],[312.1,5.67],[313.1,5.32],[314.7,5.67],[315.7,4.85],[317.2,5.7],[318.7,5.8],[319.8,5.9],[320.8,4.96],[321.8,5.67],[322.8,5.32],[324.3,4.96],[325.3,5.2],[326.9,5.32],[327.9,4.96],[328.9,3.59],[329.9,3.66],[331.5,4.26],[332.5,3.19],[333.5,4.26],[334.5,5.32],[335.5,4.7],[336.6,4.37],[337.6,4.7],[338.4,6.1],[339.6,5.98],[341.2,7.09],[342.5,9.3],[343.5,9.4],[344.5,10.0],[345.3,11.5],[346.3,9.2],[347.3,6.9],[348.3,6.62],[349.3,7.68],[350.3,7.57],[351.4,6.5],[352.1,8.3],[353.1,7.8],[354.5,7.33],[355.6,7.0],[357,6.97],[358.2,6.0],[359.2,9.3],[360.6,8.3],[361.6,5.9],[363.1,3.66],[364.6,3.66],[365,3.9]];

// panel layout
const panels = [
  { title: '水温（℃）', top: 18, bottom: 299, ticks: [0, 10, 20, 30], series: [temp2008, temp2009, temp2010, temp2011, temp2012] },
  { title: '溶存酸素（mg/L）', top: 390, bottom: 671, ticks: [0, 5, 10, 15], series: [do2008, do2009, do2010, do2011, do2012] },
  { title: '濁度（mg/L）', top: 757, bottom: 1038, ticks: [0, 10, 20, 30], series: [turb2008, turb2009, turb2010, turb2011, turb2012] },
  { title: 'chl-a（μg/L）', top: 1128, bottom: 1410, ticks: [0, 5, 10, 15, 20], series: [chl2008, chl2009, chl2010, chl2011, chl2012] }
];

const left = 91, right = 1288;
const svg = d3.select('#chart');
const x = d3.scaleLinear().domain([0, 365]).range([left, right]);

panels.forEach((p, i) => {
  const y = d3.scaleLinear().domain([0, d3.max(p.ticks)]).range([p.bottom, p.top]);
  const g = svg.append('g');

  // gridlines (top one doubles as the frame)
  g.selectAll('line.grid').data(p.ticks.slice(1)).join('line')
    .attr('x1', left).attr('x2', right)
    .attr('y1', d => y(d)).attr('y2', d => y(d))
    .attr('stroke', '#000')
    .attr('stroke-width', (d, k) => k === p.ticks.length - 2 ? 2 : 1.3);

  // right frame
  g.append('line')
    .attr('x1', right).attr('x2', right).attr('y1', p.top).attr('y2', p.bottom)
    .attr('stroke', '#000').attr('stroke-width', 1.5);

  // series
  const clipId = 'clip' + i;
  svg.append('clipPath').attr('id', clipId).append('rect')
    .attr('x', left).attr('y', p.top).attr('width', right - left).attr('height', p.bottom - p.top);

  const line = d3.line()
    .defined(d => d[1] != null)
    .x(d => x(d[0]))
    .y(d => y(d[1]));

  g.append('g').attr('clip-path', `url(#${clipId})`)
    .selectAll('path').data(p.series).join('path')
    .attr('d', line)
    .attr('fill', 'none')
    .attr('stroke', (d, k) => colors[k])
    .attr('stroke-width', 1.4)
    .attr('stroke-linejoin', 'round');

  // y axis
  const yAxis = g.append('g')
    .attr('transform', `translate(${left},0)`)
    .call(d3.axisLeft(y).tickValues(p.ticks).tickSize(8).tickPadding(17).tickSizeOuter(0));
  yAxis.select('.domain').attr('stroke-width', 2);
  yAxis.selectAll('.tick line').attr('stroke-width', 1.3);
  yAxis.selectAll('.tick text')
    .attr('font-size', 19)
    .attr('font-family', '"Noto Sans CJK JP", sans-serif')
    .attr('fill', '#000');

  // x axis
  const xAxis = g.append('g')
    .attr('transform', `translate(0,${p.bottom})`)
    .call(d3.axisBottom(x).tickValues(monthStarts).tickSize(6).tickSizeOuter(0)
      .tickFormat((d, k) => monthLabels[k]));
  xAxis.select('.domain').attr('stroke-width', 2.5);
  xAxis.selectAll('.tick line').attr('y1', -6).attr('y2', 6).attr('stroke-width', 1.5);
  xAxis.selectAll('.tick text')
    .attr('y', 37).attr('dy', null)
    .attr('transform', 'scale(0.84,1)')
    .attr('font-size', 24)
    .attr('font-family', '"Noto Sans CJK JP", sans-serif')
    .attr('fill', '#000');

  // y title
  svg.append('text')
    .attr('transform', `translate(23,${(p.top + p.bottom) / 2}) rotate(-90)`)
    .attr('text-anchor', 'middle')
    .attr('dominant-baseline', 'central')
    .attr('font-size', 22)
    .text(p.title);
});

// legend
const legend = svg.append('g');
legend.append('rect')
  .attr('x', 559.5).attr('y', 1470.5).attr('width', 728).attr('height', 60)
  .attr('fill', '#fff').attr('stroke', '#000').attr('stroke-width', 1);

const item = legend.selectAll('g.item').data(years).join('g')
  .attr('transform', (d, k) => `translate(${585 + k * 141},1491)`);
item.append('line')
  .attr('x1', 0).attr('x2', 39).attr('y1', 0).attr('y2', 0)
  .attr('stroke', (d, k) => colors[k]).attr('stroke-width', 1.4);
item.append('text')
  .attr('transform', 'translate(43,0) scale(0.9,1)')
  .attr('dominant-baseline', 'central')
  .attr('font-size', 25)
  .text(d => d);
</script>
</body>
</html>
